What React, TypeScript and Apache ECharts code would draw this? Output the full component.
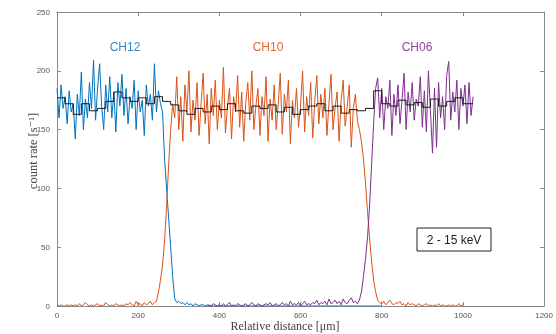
import React, { useEffect, useRef } from "react";
import * as echarts from "echarts";

// x positions: start + i * step (µm)
const ch12Start = 0;
const ch12Step = 5;
const ch12Values = [
  185, 160, 188, 168, 178, 155, 183, 165, 172, 142,
  180, 162, 199, 150, 176, 160, 190, 168, 209, 158,
  185, 206, 170, 150, 188, 165, 195, 160, 182, 148,
  190, 170, 197, 162, 185, 155, 178, 168, 192, 150,
  183, 165, 175, 145, 188, 170, 180, 158, 206, 165,
  183, 172,
  165, 125, 100, 75, 50, 25, 6, 3, 4, 2, 3, 1, 3, 1, 2, 0, 2, 1, 0, 1, 1, 0, 1,
  0, 0, 0, 0, 0, 0, 0, 0, 0, 0, 0, 0, 0, 0, 0, 0, 0, 0, 0, 0,
  0, 0, 0, 0, 0, 0, 0, 0, 0, 0, 0, 0, 0, 0, 0, 0, 0, 0, 0, 0,
  0, 0, 0, 0, 0, 0, 0, 0, 0, 0, 0, 0, 0, 0, 0, 0, 0, 0, 0, 0,
  0, 0, 0, 0, 0, 0, 0, 0, 0, 0, 0, 0, 0, 0, 0, 0, 0, 0, 0, 0,
  0, 0, 0, 0, 0, 0,
];

const ch10Start = 0;
const ch10Step = 5;
const ch10Values = [
  1, 0, 1, 0, 0, 1, 0, 1, 0, 1, 0, 2, 0, 1, 3, 1, 0, 1, 0, 1,
  2, 0, 1, 0, 3, 1, 0, 1, 0, 2, 1, 0, 1, 0, 2, 1, 3, 1, 0, 4,
  1, 2, 0, 3, 1, 2, 4, 1, 3,
  4, 12, 22, 35, 55, 85, 120, 150, 172,
  160, 195, 150, 178, 140, 188, 165, 200, 148, 175,
  158, 190, 145, 172, 198, 155, 180, 138, 185, 162,
  192, 150, 175, 160, 203, 147, 170, 185, 142, 178,
  165, 196, 152, 182, 140, 173, 190, 158, 200, 150,
  170, 185, 145, 178, 162, 195, 140, 176, 158, 188,
  150, 172, 198, 146, 180, 165, 192, 138, 175, 160,
  185, 152, 170, 200, 148, 178, 162, 190, 143, 174,
  196, 155, 180, 160, 185, 145, 172, 197, 150, 168,
  182, 140, 175, 192, 153, 170, 188, 135, 168, 180,
  158,
  150, 140, 125, 105, 80, 58, 38, 22, 12, 5, 3,
  2, 4, 1, 3, 5, 2, 1, 3, 2, 4, 1, 2, 0, 3, 1, 2, 1, 0, 2, 1,
  0, 1, 2, 0, 1, 0, 1, 0, 2, 0, 1, 0, 0, 1, 0, 1, 0, 0, 2, 0, 1,
];

const ch06Start = 370;
const ch06Step = 5;
const ch06Values = [
  0, 1, 0, 2, 1, 0, 1, 0, 2, 0, 1, 3, 0, 1, 0, 2, 1, 0, 1, 2,
  0, 1, 3, 1, 0, 2, 1, 0, 1, 2, 1, 3, 0, 1, 2, 0, 1, 3, 1, 2,
  0, 4, 1, 2, 1, 3, 0, 2, 4, 1, 2, 1, 3, 2, 5, 1, 3, 2, 4, 1,
  6, 2, 3, 5, 2, 4, 1, 6, 3, 2, 5, 7, 3, 4,
  2, 5, 12, 25, 40, 58, 85, 120, 155, 185,
  194, 160, 185, 150, 178, 168, 192, 145, 180, 162,
  188, 155, 175, 198, 150, 182, 165, 190, 158, 176,
  170, 195, 152, 183, 148, 200, 166, 130, 185, 135,
  190, 160, 178, 150, 196, 208, 158, 182, 165, 192,
  150, 185, 170, 188, 155, 190, 162, 178,
];

// binned mean (20 µm bins)
const meanStart = 0;
const meanStep = 20;
const meanEnd = 1025;
const meanValues = [
  177, 172, 163, 172, 166, 168, 174, 182, 177, 174,
  177, 172, 178, 174, 171, 166, 163, 168, 165, 170,
  167, 172, 166, 164, 170, 168, 171, 165, 169, 163,
  167, 170, 172, 166, 170, 164, 167, 166, 168, 183,
  172, 170, 175, 171, 173, 169, 176, 170, 174, 177,
  172,
];

const xTicks = [0, 200, 400, 600, 800, 1000, 1200];
const yTicks = [0, 50, 100, 150, 200, 250];
const channelLabels = ["CH12", "CH10", "CH06"];
const channelLabelX = [125, 268, 417];
const energyLabel = "2 - 15 keV";
const xName = "Relative distance [\u03bcm]";
const yName = "count rate [s\u207b\u00b9]";

const COLORS = ["#0072BD", "#D95319", "#7E2F8E"];
const TEXT_COLORS = ["#3a86c8", "#e0692f", "#8f44a3"];

function toPairs(start: number, step: number, vals: number[]) {
  return vals.map((v, i) => [start + i * step, v]);
}

export default function App() {
  const ref = useRef<HTMLDivElement>(null);
  useEffect(() => {
    if (!ref.current) return;
    const chart = echarts.init(ref.current, undefined, { renderer: "svg" });
    const meanData = toPairs(meanStart, meanStep, meanValues);
    meanData.push([meanEnd, meanValues[meanValues.length - 1]]);
    const axisGray = "#8a8a8a";
    const labelStyle = {
      color: "#555",
      fontSize: 8,
      fontFamily: "Liberation Sans, Arial, sans-serif",
      formatter: (v: number) => String(v),
    };
    chart.setOption({
      animation: false,
      grid: { left: 57, right: 8, top: 12, bottom: 28, containLabel: false },
      xAxis: [
        {
          type: "value",
          min: xTicks[0],
          max: xTicks[xTicks.length - 1],
          interval: 200,
          axisLine: { show: true, onZero: false, lineStyle: { color: axisGray, width: 1 } },
          axisTick: { show: true, inside: true, length: 4, lineStyle: { color: axisGray } },
          axisLabel: { ...labelStyle, margin: 5 },
          splitLine: { show: false },
        },
        {
          type: "value",
          position: "top",
          min: xTicks[0],
          max: xTicks[xTicks.length - 1],
          interval: 200,
          axisLine: { show: true, onZero: false, lineStyle: { color: axisGray, width: 1 } },
          axisTick: { show: true, inside: true, length: 4, lineStyle: { color: axisGray } },
          axisLabel: { show: false },
          splitLine: { show: false },
        },
      ],
      yAxis: [
        {
          type: "value",
          min: yTicks[0],
          max: yTicks[yTicks.length - 1],
          interval: 50,
          axisLine: { show: true, onZero: false, lineStyle: { color: axisGray, width: 1 } },
          axisTick: { show: true, inside: true, length: 4, lineStyle: { color: axisGray } },
          axisLabel: { ...labelStyle, margin: 7 },
          splitLine: { show: false },
        },
        {
          type: "value",
          position: "right",
          min: yTicks[0],
          max: yTicks[yTicks.length - 1],
          interval: 50,
          axisLine: { show: true, onZero: false, lineStyle: { color: axisGray, width: 1 } },
          axisTick: { show: true, inside: true, length: 4, lineStyle: { color: axisGray } },
          axisLabel: { show: false },
          splitLine: { show: false },
        },
      ],
      series: [
        {
          type: "line",
          name: "CH12",
          data: toPairs(ch12Start, ch12Step, ch12Values),
          showSymbol: false,
          lineStyle: { color: COLORS[0], width: 1 },
          itemStyle: { color: COLORS[0] },
        },
        {
          type: "line",
          name: "CH10",
          data: toPairs(ch10Start, ch10Step, ch10Values),
          showSymbol: false,
          lineStyle: { color: COLORS[1], width: 1 },
          itemStyle: { color: COLORS[1] },
        },
        {
          type: "line",
          name: "CH06",
          data: toPairs(ch06Start, ch06Step, ch06Values),
          showSymbol: false,
          lineStyle: { color: COLORS[2], width: 1 },
          itemStyle: { color: COLORS[2] },
        },
        {
          type: "line",
          name: "mean",
          step: "end",
          data: meanData,
          showSymbol: false,
          lineStyle: { color: "#1a1a1a", width: 1 },
          itemStyle: { color: "#1a1a1a" },
        },
      ],
      graphic: [
        ...channelLabels.map((t, i) => ({
          type: "text",
          x: channelLabelX[i],
          y: 47,
          style: {
            text: t,
            fill: TEXT_COLORS[i],
            fontSize: 12,
            fontFamily: "Liberation Sans, Arial, sans-serif",
            align: "center",
            verticalAlign: "middle",
          },
        })),
        {
          type: "rect",
          shape: { x: 417, y: 228, width: 74, height: 23 },
          style: { fill: "#fff", stroke: "#222", lineWidth: 1 },
        },
        {
          type: "text",
          x: 454,
          y: 240,
          style: {
            text: energyLabel,
            fill: "#222",
            fontSize: 12,
            fontFamily: "Liberation Sans, Arial, sans-serif",
            align: "center",
            verticalAlign: "middle",
          },
        },
        {
          type: "text",
          x: 285,
          y: 326,
          style: {
            text: xName,
            fill: "#444",
            fontSize: 12,
            fontFamily: "Liberation Serif, DejaVu Serif, serif",
            align: "center",
            verticalAlign: "middle",
          },
        },
        {
          type: "text",
          x: 33,
          y: 151,
          rotation: Math.PI / 2,
          style: {
            text: yName,
            fill: "#444",
            fontSize: 12.5,
            fontFamily: "Liberation Serif, DejaVu Serif, serif",
            align: "center",
            verticalAlign: "middle",
          },
        },
      ],
    });
    return () => chart.dispose();
  }, []);
  return (
    <div
      ref={ref}
      style={{ position: "fixed", left: 0, top: 0, width: 556, height: 334 }}
    />
  );
}
